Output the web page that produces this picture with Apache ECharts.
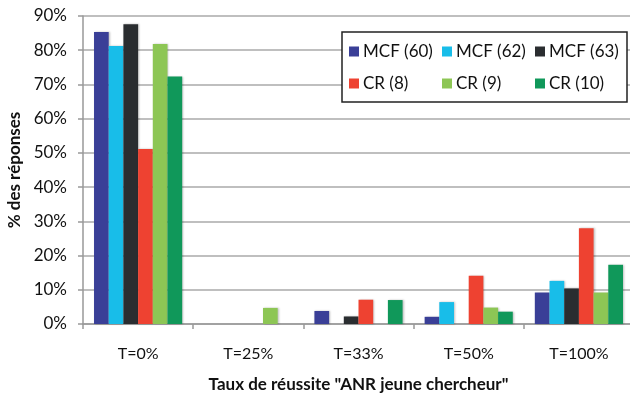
<!DOCTYPE html>
<html><head><meta charset="utf-8">
<script src="https://cdn.jsdelivr.net/npm/echarts@6/dist/echarts.min.js"></script>
<style>html,body{margin:0;padding:0;background:#fff}#c{width:630px;height:393px}</style>
</head><body><div id="c"></div>
<script>
const categories = ["T=0%", "T=25%", "T=33%", "T=50%", "T=100%"];
const seriesNames = ["MCF (60)", "MCF (62)", "MCF (63)", "CR (8)", "CR (9)", "CR (10)"];
const mcf60 = [85.3, 0, 3.8, 2.1, 9.2];
const mcf62 = [81.2, 0, 0, 6.4, 12.6];
const mcf63 = [87.6, 0, 2.2, 0, 10.4];
const cr8 = [51.1, 0, 7.1, 14.1, 28.0];
const cr9 = [81.8, 4.7, 0, 4.8, 9.2];
const cr10 = [72.3, 0, 7.0, 3.6, 17.3];
const yTicks = [0, 10, 20, 30, 40, 50, 60, 70, 80, 90];
const colors = ["#3a3f97", "#18bde9", "#2a2d30", "#ee4231", "#8dc655", "#10985a"];
const values = [mcf60, mcf62, mcf63, cr8, cr9, cr10];
const FONT = "Lato";
const chart = echarts.init(document.getElementById('c'), null, {renderer: 'canvas'});
chart.setOption({
  animation: false,
  textStyle: {fontFamily: FONT},
  grid: {left: 83, right: -4, top: 16, bottom: 69, containLabel: false, outerBoundsMode: 'none'},
  legend: {
    show: true, left: 342, top: 32, orient: 'horizontal', width: 275,
    itemWidth: 10, itemHeight: 10, itemGap: 7,
    backgroundColor: '#fff', borderColor: '#222', borderWidth: 1.5,
    padding: [7, 6, 6, 7],
    textStyle: {fontFamily: FONT, fontSize: 17, color: '#111', lineHeight: 25, width: 72, padding: [0, 0, 0, -1]},
    icon: 'rect',
    data: seriesNames
  },
  xAxis: {
    type: 'category', data: categories,
    name: 'Taux de réussite "ANR jeune chercheur"', nameLocation: 'middle', nameGap: 52,
    nameTextStyle: {fontFamily: FONT, fontWeight: 'bold', fontSize: 17, color: '#111'},
    axisLine: {lineStyle: {color: '#999', width: 1.5}},
    axisTick: {show: true, length: 5, lineStyle: {color: '#999', width: 1.5}},
    axisLabel: {fontFamily: FONT, fontSize: 16, color: '#111', margin: 22}
  },
  yAxis: {
    type: 'value', min: 0, max: 90, interval: 10,
    name: '% des réponses', nameLocation: 'middle', nameGap: 58, nameRotate: 90,
    nameTextStyle: {fontFamily: FONT, fontWeight: 'bold', fontSize: 17, color: '#111'},
    axisLine: {show: true, lineStyle: {color: '#999', width: 1.5}},
    axisTick: {show: true, length: 5, lineStyle: {color: '#999', width: 1.5}},
    axisLabel: {fontFamily: FONT, fontSize: 17, color: '#111', margin: 16,
      formatter: v => yTicks.includes(v) ? v + '%' : ''},
    splitLine: {lineStyle: {color: '#aaa', width: 1.5}}
  },
  series: seriesNames.map((n, i) => ({
    name: n, type: 'bar', data: values[i].map(v => v === 0 ? null : v),
    barGap: '0%', barCategoryGap: '20%',
    itemStyle: {color: colors[i], shadowColor: 'rgba(0,0,0,0.25)', shadowBlur: 2, shadowOffsetX: 1, shadowOffsetY: 0}
  }))
});
</script></body></html>
